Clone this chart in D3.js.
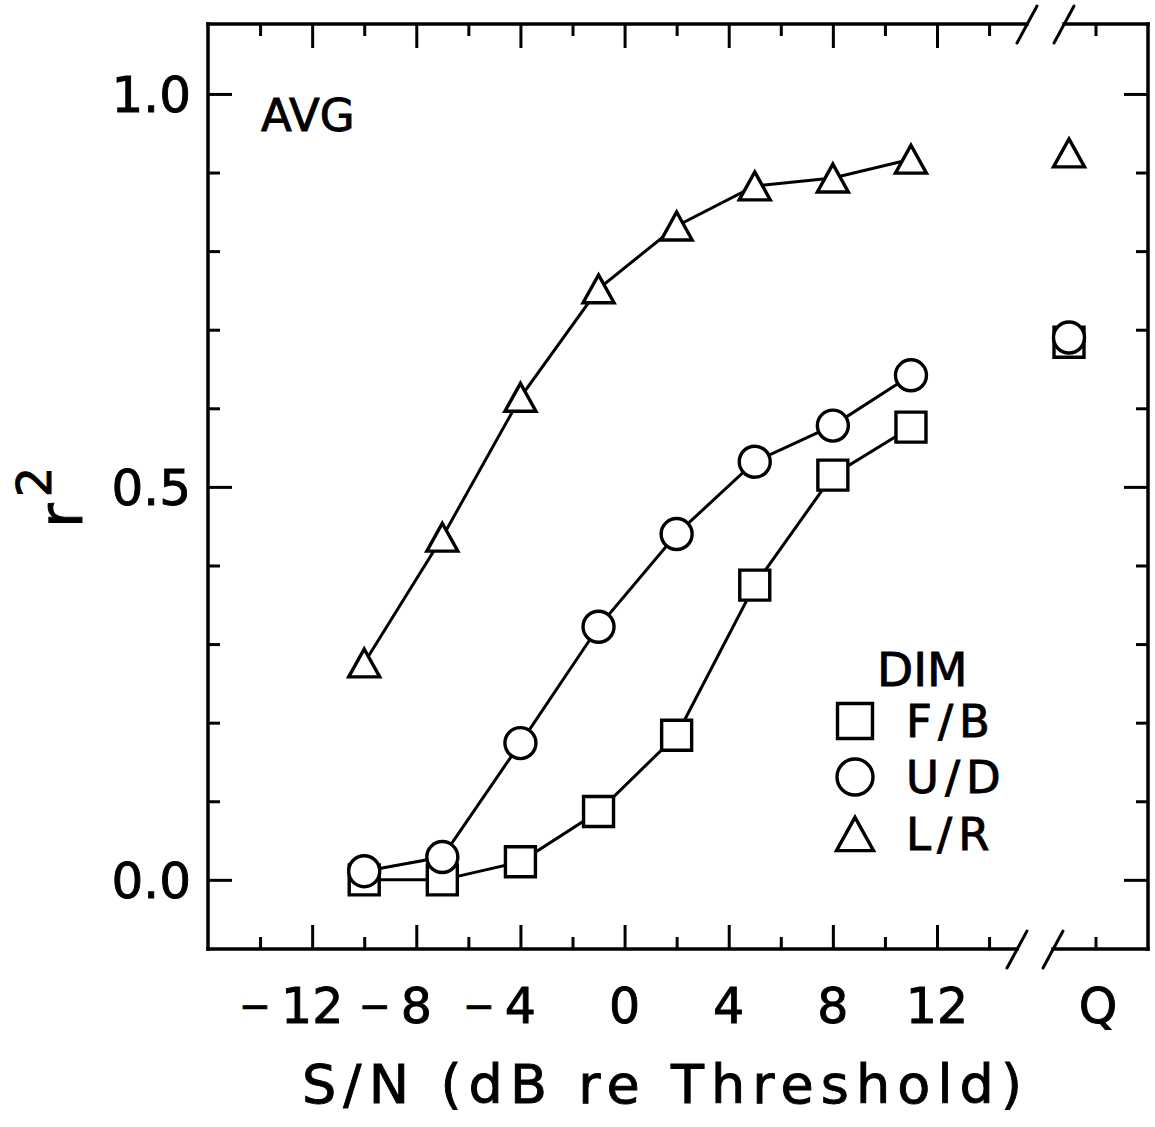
<!DOCTYPE html>
<html>
<head>
<meta charset="utf-8">
<script src="https://cdn.jsdelivr.net/npm/d3@7"></script>
<style>
  body { margin: 0; background: #fff; }
  text { font-family: "DejaVu Sans", sans-serif; fill: #000; stroke: #000; stroke-width: 0.9px; }
</style>
</head>
<body>
<svg id="chart"></svg>
<script>
// values
const snr = [-10, -7, -4, -1, 2, 5, 8, 11];
const fb = [0.0, 0.0, 0.023, 0.087, 0.184, 0.375, 0.515, 0.576];
const ud = [0.011, 0.029, 0.174, 0.322, 0.440, 0.532, 0.578, 0.642];
const lr = [0.276, 0.436, 0.614, 0.752, 0.832, 0.883, 0.893, 0.917];
const quiet = [0.684, 0.690, 0.925]; // F/B, U/D, L/R at Q
const dims = ['F/B', 'U/D', 'L/R'];
const xTickLabels = [-12, -8, -4, 0, 4, 8, 12];
const yTickLabels = [0.0, 0.5, 1.0];

const width = 1155;
const height = 1127;

const frame = { left: 208, right: 1148, top: 24, bottom: 949 };

const svg = d3.select('#chart')
    .attr('width', width)
    .attr('height', height)
    .attr('viewBox', `0 0 ${width} ${height}`);

const x = d3.scaleLinear()
    .domain([-16, 12])
    .range([frame.left, 937]);

// quiet condition sits past the axis break
const xQ = d3.scaleOrdinal().domain(['Q']).range([1069]);
const qTickX = 1096;

const y = d3.scaleLinear()
    .domain([-0.088, 1.089])
    .range([frame.bottom, frame.top]);

// frame with broken top and bottom edges
const bottomBreak = [1017, 1053];
const topBreak = [1027, 1064];

const frameG = svg.append('g')
    .attr('fill', 'none')
    .attr('stroke', '#000')
    .attr('stroke-width', 3.5)
    .attr('stroke-linecap', 'square');

frameG.append('line')
    .attr('x1', frame.left).attr('x2', frame.left)
    .attr('y1', frame.top).attr('y2', frame.bottom);
frameG.append('line')
    .attr('x1', frame.right).attr('x2', frame.right)
    .attr('y1', frame.top).attr('y2', frame.bottom);
frameG.append('line')
    .attr('x1', frame.left).attr('x2', bottomBreak[0])
    .attr('y1', frame.bottom).attr('y2', frame.bottom);
frameG.append('line')
    .attr('x1', bottomBreak[1]).attr('x2', frame.right)
    .attr('y1', frame.bottom).attr('y2', frame.bottom);
frameG.append('line')
    .attr('x1', frame.left).attr('x2', topBreak[0])
    .attr('y1', frame.top).attr('y2', frame.top);
frameG.append('line')
    .attr('x1', topBreak[1]).attr('x2', frame.right)
    .attr('y1', frame.top).attr('y2', frame.top);

const slashes = bottomBreak.map(cx => [cx, frame.bottom])
    .concat(topBreak.map(cx => [cx, frame.top]));
frameG.selectAll('.slash')
  .data(slashes)
  .join('line')
    .attr('class', 'slash')
    .attr('stroke-width', 3)
    .attr('stroke-linecap', 'round')
    .attr('x1', d => d[0] - 10).attr('y1', d => d[1] + 19)
    .attr('x2', d => d[0] + 10).attr('y2', d => d[1] - 18);

// ticks (inward)
const xMajor = xTickLabels;
const xMinor = d3.range(-14, 15, 4);
const yMajor = yTickLabels;
const yMinor = [0.1, 0.2, 0.3, 0.4, 0.6, 0.7, 0.8, 0.9];
const majorLen = 24;
const minorLen = 12;

function tickStyle(g) {
  g.select('.domain').remove();
  g.selectAll('.tick line')
      .attr('stroke', '#000')
      .attr('stroke-width', 3);
  g.selectAll('.tick text').remove();
}

const axes = [
  [d3.axisBottom(x).tickValues(xMajor).tickSize(-majorLen), `translate(0,${frame.bottom})`],
  [d3.axisBottom(x).tickValues(xMinor).tickSize(-minorLen), `translate(0,${frame.bottom})`],
  [d3.axisTop(x).tickValues(xMajor).tickSize(-majorLen), `translate(0,${frame.top})`],
  [d3.axisTop(x).tickValues(xMinor).tickSize(-minorLen), `translate(0,${frame.top})`],
  [d3.axisLeft(y).tickValues(yMajor).tickSize(-majorLen), `translate(${frame.left},0)`],
  [d3.axisLeft(y).tickValues(yMinor).tickSize(-minorLen), `translate(${frame.left},0)`],
  [d3.axisRight(y).tickValues(yMajor).tickSize(-majorLen), `translate(${frame.right},0)`],
  [d3.axisRight(y).tickValues(yMinor).tickSize(-minorLen), `translate(${frame.right},0)`]
];
axes.forEach(([axis, tr]) => {
  svg.append('g').attr('transform', tr).call(axis).call(tickStyle);
});

// Q tick, top and bottom
svg.append('g')
    .attr('stroke', '#000')
    .attr('stroke-width', 3)
  .selectAll('line')
  .data([[frame.bottom, -1], [frame.top, 1]])
  .join('line')
    .attr('x1', qTickX).attr('x2', qTickX)
    .attr('y1', d => d[0])
    .attr('y2', d => d[0] + d[1] * minorLen);

// y tick labels
svg.append('g')
    .attr('transform', `translate(${frame.left},0)`)
    .call(d3.axisLeft(y).tickValues(yTickLabels).tickSize(0).tickPadding(17).tickFormat(d3.format('.1f')))
    .call(g => g.select('.domain').remove())
    .selectAll('text')
    .attr('font-family', '"DejaVu Sans", sans-serif')
    .attr('font-size', 50)
    .attr('dy', '0.36em');

// x tick labels: digits centred on the tick, minus sign hung to the left
const xLabelY = 1023;
const xLabels = svg.append('g').attr('font-size', 49);
xTickLabels.forEach(v => {
  const t = xLabels.append('text')
      .attr('x', x(v))
      .attr('y', xLabelY)
      .attr('text-anchor', 'middle')
      .text(Math.abs(v));
  if (v < 0) {
    const w = t.node().getComputedTextLength();
    xLabels.append('text')
        .attr('x', x(v) - w / 2 - 10)
        .attr('y', xLabelY - 4)
        .attr('font-size', 38)
        .attr('text-anchor', 'end')
        .text('\u2212');
  }
});
xLabels.append('text')
    .attr('x', 1098)
    .attr('y', xLabelY)
    .attr('text-anchor', 'middle')
    .text('Q');

// axis titles
svg.append('text')
    .attr('x', 662)
    .attr('y', 1103)
    .attr('text-anchor', 'middle')
    .attr('font-size', 54)
    .attr('textLength', 720)
    .attr('lengthAdjust', 'spacing')
    .text('S/N (dB re Threshold)');

const yTitle = svg.append('text')
    .attr('transform', 'translate(82,528) rotate(-90)')
    .attr('font-size', 60);
yTitle.append('tspan').text('r');
yTitle.append('tspan')
    .attr('font-size', 48)
    .attr('dy', '-0.65em')
    .attr('dx', '6')
    .text('2');

svg.append('text')
    .attr('x', 261)
    .attr('y', 131)
    .attr('font-size', 45)
    .text('AVG');

// markers
const triangleType = {
  draw(ctx, size) {
    // bounding box centred on the point
    const w = Math.sqrt(size);
    const h = w * 0.9;
    ctx.moveTo(0, -h / 2);
    ctx.lineTo(w / 2, h / 2);
    ctx.lineTo(-w / 2, h / 2);
    ctx.closePath();
  }
};
const shapes = [
  { type: d3.symbolSquare, size: 30 * 30 },
  { type: d3.symbolCircle, size: Math.PI * 15.5 * 15.5 },
  { type: triangleType, size: 31 * 31 }
];
const legendShapes = [
  { type: d3.symbolSquare, size: 35 * 35 },
  { type: d3.symbolCircle, size: Math.PI * 18 * 18 },
  { type: triangleType, size: 37 * 37 }
];

const line = d3.line()
    .x(d => x(d[0]))
    .y(d => y(d[1]));

const seriesList = [fb, ud, lr];
const plot = svg.append('g');

seriesList.forEach((vals, i) => {
  const pts = snr.map((s, j) => [s, vals[j]]);
  const g = plot.append('g');
  g.append('path')
      .datum(pts)
      .attr('fill', 'none')
      .attr('stroke', '#000')
      .attr('stroke-width', 3)
      .attr('d', line);
  const sym = d3.symbol().type(shapes[i].type).size(shapes[i].size);
  g.selectAll('path.pt')
    .data(pts)
    .join('path')
      .attr('class', 'pt')
      .attr('transform', d => `translate(${x(d[0])},${y(d[1])})`)
      .attr('d', sym)
      .attr('fill', '#fff')
      .attr('stroke', '#000')
      .attr('stroke-width', 3.4);
  g.append('path')
      .attr('transform', `translate(${xQ('Q')},${y(quiet[i])})`)
      .attr('d', sym)
      .attr('fill', '#fff')
      .attr('stroke', '#000')
      .attr('stroke-width', 3.4);
});

// legend
const legend = svg.append('g').attr('font-size', 45);
legend.append('text')
    .attr('x', 877)
    .attr('y', 686)
    .attr('font-size', 47)
    .text('DIM');
const rowY = [721, 777, 834];
dims.forEach((d, i) => {
  legend.append('path')
      .attr('transform', `translate(855,${rowY[i]})`)
      .attr('d', d3.symbol().type(legendShapes[i].type).size(legendShapes[i].size))
      .attr('fill', '#fff')
      .attr('stroke', '#000')
      .attr('stroke-width', 3.4);
  legend.append('text')
      .attr('x', 906)
      .attr('y', rowY[i])
      .attr('dy', '0.36em')
      .attr('letter-spacing', 6)
      .text(d);
});
</script>
</body>
</html>
